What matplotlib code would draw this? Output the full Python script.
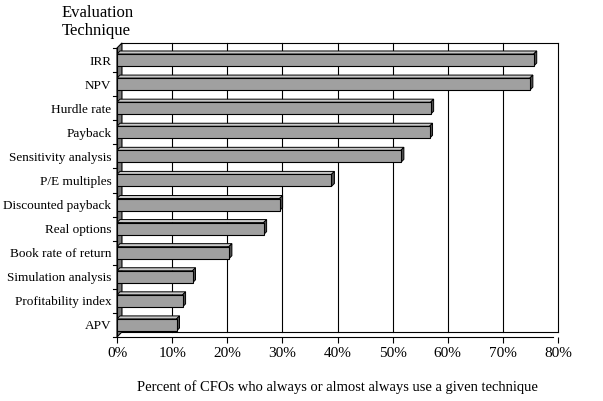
import numpy as np
import matplotlib.pyplot as plt
from matplotlib.patches import Polygon, Rectangle

techniques = ["IRR", "NPV", "Hurdle rate", "Payback", "Sensitivity analysis",
              "P/E multiples", "Discounted payback", "Real options",
              "Book rate of return", "Simulation analysis",
              "Profitability index", "APV"]
percent = [75.6, 74.9, 56.9, 56.7, 51.5, 38.9, 29.5, 26.6, 20.3, 13.7, 11.9, 10.8]
ticks = [0, 10, 20, 30, 40, 50, 60, 70, 80]

plt.rcParams["font.family"] = ["Liberation Serif", "DejaVu Serif"]

fig = plt.figure(figsize=(6.03, 4.01), dpi=100)
ax = fig.add_axes([117 / 603, (401 - 337) / 401, 441 / 603, 289 / 401])
ax.set_xlim(0, 80)
ax.set_ylim(11.5, -0.5)
for s in ax.spines.values():
    s.set_visible(False)

dx, dy = 0.9, 0.21
top, bot = -0.5, 11.5

# back wall and grid
ax.add_patch(Polygon([(0, top), (dx, top - dy), (dx, bot - dy), (0, bot)],
                     closed=True, facecolor="#7a7a7a", edgecolor="black", lw=0.8, clip_on=False))
for t in ticks[1:]:
    ax.plot([t, t], [top - dy, bot - dy], color="black", lw=0.8, clip_on=False, zorder=1)
ax.plot([dx, 80], [top - dy, top - dy], color="black", lw=0.8, clip_on=False)
ax.plot([dx, 80], [bot - dy, bot - dy], color="black", lw=0.8, clip_on=False)
ax.plot([0, 80 - dx], [bot, bot], color="black", lw=0.8, clip_on=False)

h = 0.25
for i, v in enumerate(percent):
    ax.add_patch(Polygon([(0, i - h), (v, i - h), (v + dx * 0.6, i - h - dy * 0.6), (dx * 0.6, i - h - dy * 0.6)],
                         closed=True, facecolor="#c8c8c8", edgecolor="black", lw=0.7, zorder=3))
    ax.add_patch(Polygon([(v, i - h), (v, i + h), (v + dx * 0.6, i + h - dy * 0.6), (v + dx * 0.6, i - h - dy * 0.6)],
                         closed=True, facecolor="#505050", edgecolor="black", lw=0.7, zorder=3))
    ax.add_patch(Rectangle((0, i - h), v, 2 * h, facecolor="#a0a0a0", edgecolor="black", lw=0.8, zorder=4))

ax.set_xticks(ticks)
ax.set_xticklabels([f"{t}%" for t in ticks], fontsize=11)
ax.set_yticks(range(len(techniques)))
ax.set_yticklabels(techniques, fontsize=9.5)
ax.tick_params(axis="y", length=0, pad=4)
ax.tick_params(axis="x", length=4, direction="out")
for b in np.arange(-0.5, 12, 1):
    ax.plot([-0.7, 0], [b, b], color="black", lw=0.8, clip_on=False)
ax.plot([0, 0], [top, bot], color="black", lw=0.8, clip_on=False)

fig.text(62 / 603, 1 - 5 / 401, "Evaluation\nTechnique", fontsize=12, ha="left", va="top", linespacing=1.15)
ax.set_xlabel("Percent of CFOs who always or almost always use a given technique", fontsize=10.5, labelpad=14)

fig.savefig("out.png", dpi=100)
